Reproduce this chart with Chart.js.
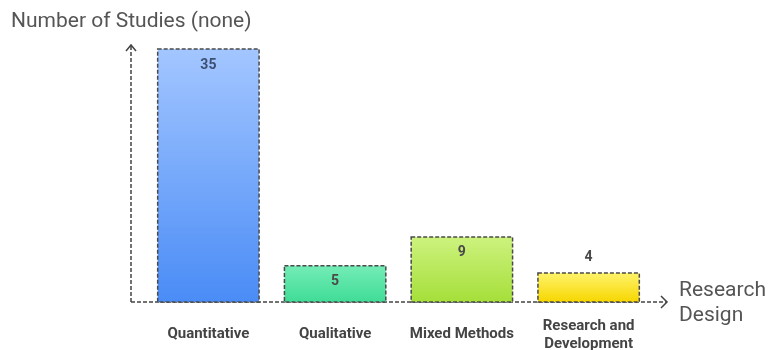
<!DOCTYPE html>
<html>
<head>
<meta charset="utf-8">
<script src="https://cdn.jsdelivr.net/npm/chart.js@4"></script>
<style>
html,body{margin:0;padding:0;background:#fff;}
#wrap{width:768px;height:350px;position:relative;}
</style>
</head>
<body>
<div id="wrap"><canvas id="c" width="768" height="350"></canvas></div>
<script>
const categories = ["Quantitative", "Qualitative", "Mixed Methods", ["Research and", "Development"]];
const studyCounts = [35, 5, 9, 4];
const topColors = ["#a3c6ff", "#74ecb6", "#cdf27e", "#fff36a"];
const bottomColors = ["#4a8cf6", "#3fdc96", "#a5df3a", "#f6d600"];
const yAxisTitle = "Number of Studies (none)";
const xAxisTitle = ["Research", "Design"];

function barGradient(ctx) {
  const chart = ctx.chart;
  const i = ctx.dataIndex;
  if (!chart.chartArea || !chart.scales.y) return bottomColors[i];
  const y = chart.scales.y;
  const yTop = y.getPixelForValue(studyCounts[i]);
  const yBot = y.getPixelForValue(0);
  const g = chart.ctx.createLinearGradient(0, yTop, 0, yBot);
  g.addColorStop(0, topColors[i]);
  g.addColorStop(1, bottomColors[i]);
  return g;
}

const decor = {
  id: 'decor',
  beforeDatasetsDraw(chart) {
    const c = chart.ctx, a = chart.chartArea;
    const ax = a.left - 14, ay = a.bottom;
    c.save();
    c.strokeStyle = '#444';
    c.lineWidth = 1.5;
    c.setLineDash([4, 2]);
    c.beginPath();
    c.moveTo(ax, ay); c.lineTo(ax, a.top - 4);
    c.moveTo(ax, ay); c.lineTo(a.right + 14, ay);
    c.stroke();
    c.setLineDash([]);
    c.lineWidth = 1.5;
    c.beginPath();
    c.moveTo(ax - 5, a.top + 2); c.lineTo(ax, a.top - 4); c.lineTo(ax + 5, a.top + 2);
    c.moveTo(a.right + 9, ay - 6); c.lineTo(a.right + 15, ay); c.lineTo(a.right + 9, ay + 6);
    c.stroke();
    c.restore();
  },
  afterDatasetsDraw(chart) {
    const c = chart.ctx, a = chart.chartArea;
    const meta = chart.getDatasetMeta(0);
    c.save();
    meta.data.forEach((bar) => {
      const half = bar.width / 2;
      c.strokeStyle = '#4a4a4a';
      c.lineWidth = 1.5;
      c.setLineDash([4, 2]);
      c.strokeRect(bar.x - half, bar.y, bar.width, bar.base - bar.y);
    });
    c.setLineDash([]);
    c.textAlign = 'center';
    c.textBaseline = 'middle';
    meta.data.forEach((bar, i) => {
      const h = bar.base - bar.y;
      c.font = 'bold 14px Roboto, "Open Sans", sans-serif';
      c.fillStyle = i === 0 ? '#3d4f70' : '#4a4a4a';
      const ly = h > 32 ? bar.y + 16 : bar.y - 16;
      c.fillText(String(studyCounts[i]), bar.x, ly);
      c.font = 'bold 15px Roboto, "Open Sans", sans-serif';
      c.fillStyle = '#444';
      const lab = categories[i];
      if (Array.isArray(lab)) {
        c.fillText(lab[0], bar.x, a.bottom + 24);
        c.fillText(lab[1], bar.x, a.bottom + 42);
      } else {
        c.fillText(lab, bar.x, a.bottom + 32);
      }
    });
    c.font = '21px Roboto, "Open Sans", sans-serif';
    c.fillStyle = '#555';
    c.textAlign = 'left';
    c.fillText(yAxisTitle, 11, 22);
    c.fillText(xAxisTitle[0], a.right + 27, a.bottom - 11);
    c.fillText(xAxisTitle[1], a.right + 27, a.bottom + 14);
    c.restore();
  }
};

new Chart(document.getElementById('c'), {
  type: 'bar',
  data: {
    labels: categories,
    datasets: [{
      data: studyCounts,
      backgroundColor: (ctx) => barGradient(ctx),
      borderWidth: 0,
      barPercentage: 0.8,
      categoryPercentage: 1.0
    }]
  },
  options: {
    responsive: false,
    animation: false,
    devicePixelRatio: 1,
    layout: { padding: { left: 145, right: 116, top: 49, bottom: 48 } },
    plugins: { legend: { display: false }, tooltip: { enabled: false } },
    scales: {
      x: { display: false, offset: true },
      y: { display: false, min: 0, max: 35 }
    }
  },
  plugins: [decor]
});
</script>
</body>
</html>
